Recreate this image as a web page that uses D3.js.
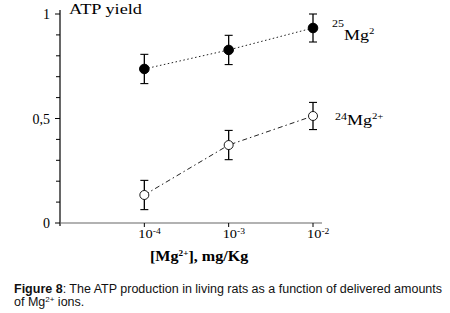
<!DOCTYPE html>
<html>
<head>
<meta charset="utf-8">
<script src="https://cdn.jsdelivr.net/npm/d3@7"></script>
<style>
  body { margin: 0; background: #fff; }
  svg { display: block; }
  .serif { font-family: "Liberation Serif", "DejaVu Serif", serif; }
  .sans { font-family: "Liberation Sans", Arial, sans-serif; }
</style>
</head>
<body>
<div id="chart"></div>
<script>
// doses (mg/Kg) on the log x axis
const doses = [1e-4, 1e-3, 1e-2];
const tickLabels = ['10', '10', '10'];
const tickExps = ['-4', '-3', '-2'];

// ATP yield
const mg25 = [0.737, 0.828, 0.933];
const mg25Err = [0.07, 0.07, 0.067];
const mg24 = [0.134, 0.373, 0.512];
const mg24Err = [0.07, 0.07, 0.065];

const yTicks = [0, 0.1, 0.2, 0.3, 0.4, 0.5, 0.6, 0.7, 0.8, 0.9, 1];
const yLabels = {0: '0', 0.5: '0,5', 1: '1'};

const width = 450, height = 313;
const svg = d3.select('#chart').append('svg')
  .attr('width', width).attr('height', height);

const scaleX = d3.scaleLog([1e-5, 1e-2], [60, 313]);
const scaleY = d3.scaleLinear([0, 1], [223, 14]);

// the figure's serif text is a little wide, so stretch it sideways
function wideText(x, y, size, sx = 1.25) {
  return svg.append('text').attr('class', 'serif')
    .attr('transform', `translate(${x},${y}) scale(${sx},1)`)
    .style('font-size', size + 'px');
}

// y axis
const axisY = svg.append('g').attr('transform', 'translate(60,0)');
axisY.append('line')
  .attr('y1', 10).attr('y2', 226)
  .attr('stroke', '#000').attr('stroke-width', 1.2);
axisY.selectAll('.tick').data(yTicks).join('line')
  .attr('x1', d => (d in yLabels) ? -5 : -4).attr('x2', 0)
  .attr('y1', d => scaleY(d)).attr('y2', d => scaleY(d))
  .attr('stroke', '#000');
axisY.selectAll('.lab').data(Object.keys(yLabels).map(Number)).join('text')
  .attr('class', 'serif')
  .attr('x', -10).attr('y', d => scaleY(d) + 5)
  .attr('text-anchor', 'end')
  .style('font-size', '14px')
  .text(d => yLabels[d]);

// x axis
svg.append('line')
  .attr('x1', 60).attr('x2', 322)
  .attr('y1', scaleY(0)).attr('y2', scaleY(0))
  .attr('stroke', '#666').attr('stroke-width', 1.2);
svg.append('g').selectAll('line').data(doses).join('line')
  .attr('x1', d => scaleX(d)).attr('x2', d => scaleX(d))
  .attr('y1', scaleY(0)).attr('y2', scaleY(0) + 4)
  .attr('stroke', '#000');
doses.forEach((d, i) => {
  const t = wideText(scaleX(d) - 6, scaleY(0) + 15, 12, 1.2);
  t.append('tspan').text(tickLabels[i]);
  t.append('tspan').attr('dy', -4).style('font-size', '8px').text(tickExps[i]);
});

// titles
wideText(69, 14, 15, 1.22).text('ATP yield');

const xt = wideText(150, 261, 14, 1.15).style('font-weight', 'bold');
xt.append('tspan').text('[Mg');
xt.append('tspan').attr('dy', -5).style('font-size', '8px').text('2+');
xt.append('tspan').attr('dy', 5).text('], mg/Kg');

// series
const line = d3.line().x(d => scaleX(d[0])).y(d => scaleY(d[1]));

function drawSeries(vals, errs, dash, filled) {
  const pts = doses.map((d, i) => [d, vals[i], errs[i]]);
  svg.append('path').datum(pts)
    .attr('d', line)
    .attr('fill', 'none')
    .attr('stroke', '#222')
    .attr('stroke-width', 1)
    .attr('stroke-dasharray', dash);
  const g = svg.append('g').selectAll('g').data(pts).join('g');
  g.append('line')
    .attr('x1', d => scaleX(d[0])).attr('x2', d => scaleX(d[0]))
    .attr('y1', d => scaleY(d[1] + d[2])).attr('y2', d => scaleY(d[1] - d[2]))
    .attr('stroke', '#000').attr('stroke-width', 1.3);
  ['+', '-'].forEach(s => {
    g.append('line')
      .attr('x1', d => scaleX(d[0]) - 4).attr('x2', d => scaleX(d[0]) + 4)
      .attr('y1', d => scaleY(s === '+' ? d[1] + d[2] : d[1] - d[2]))
      .attr('y2', d => scaleY(s === '+' ? d[1] + d[2] : d[1] - d[2]))
      .attr('stroke', '#000').attr('stroke-width', 1.1);
  });
  g.append('circle')
    .attr('cx', d => scaleX(d[0])).attr('cy', d => scaleY(d[1]))
    .attr('r', filled ? 4.8 : 4.5)
    .attr('fill', filled ? '#000' : '#fff')
    .attr('stroke', '#000').attr('stroke-width', filled ? 1 : 0.9);
}

drawSeries(mg25, mg25Err, '1.5,2.5', true);
drawSeries(mg24, mg24Err, '5,3,1.5,3', false);

// series labels
const l25 = wideText(332, 40, 15, 1.2);
l25.append('tspan').attr('dy', -13).style('font-size', '10px').text('25');
l25.append('tspan').attr('dy', 13).text('Mg');
l25.append('tspan').attr('dy', -6).style('font-size', '9px').text('2');

const l24 = wideText(335, 125, 15, 1.2);
l24.append('tspan').attr('dy', -5).style('font-size', '10px').text('24');
l24.append('tspan').attr('dy', 5).text('Mg');
l24.append('tspan').attr('dy', -6).style('font-size', '9px').text('2+');

// caption
const cap1 = svg.append('text').attr('class', 'sans')
  .attr('x', 14).attr('y', 293).style('font-size', '12.5px').attr('fill', '#111');
cap1.append('tspan').style('font-weight', 'bold').text('Figure 8');
cap1.append('tspan').text(': The ATP production in living rats as a function of delivered amounts');
const cap2 = svg.append('text').attr('class', 'sans')
  .attr('x', 14).attr('y', 306).style('font-size', '12.5px').attr('fill', '#111');
cap2.append('tspan').text('of Mg');
cap2.append('tspan').attr('dy', -4).style('font-size', '8px').text('2+');
cap2.append('tspan').attr('dy', 4).text(' ions.');
</script>
</body>
</html>
